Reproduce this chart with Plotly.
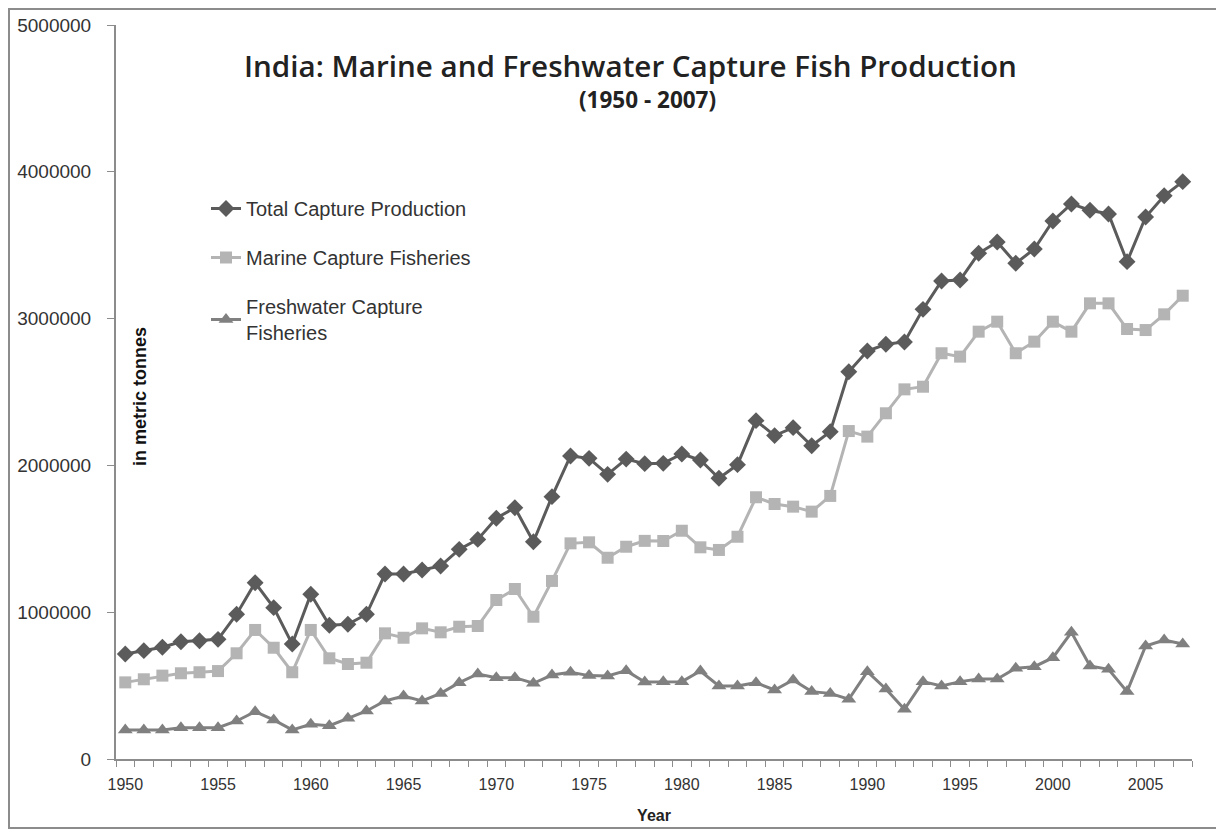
import plotly.graph_objects as go

years = list(range(1950, 2008))

total_capture = [
    715000, 738000, 761000, 799000, 806000, 815000, 986000, 1201000, 1031000, 783000,
    1122000, 911000, 918000, 986000, 1260000, 1260000, 1287000, 1315000, 1428000, 1496000,
    1640000, 1712000, 1480000, 1787000, 2064000, 2048000, 1939000, 2043000, 2012000, 2014000,
    2078000, 2037000, 1912000, 2005000, 2305000, 2203000, 2257000, 2134000, 2230000, 2638000,
    2779000, 2825000, 2841000, 3063000, 3256000, 3263000, 3445000, 3522000, 3377000, 3474000,
    3665000, 3781000, 3738000, 3713000, 3388000, 3692000, 3837000, 3933000,
]

marine_capture = [
    522000, 543000, 568000, 584000, 591000, 599000, 720000, 879000, 758000, 591000,
    879000, 686000, 647000, 656000, 856000, 826000, 890000, 863000, 901000, 906000,
    1083000, 1158000, 969000, 1213000, 1469000, 1476000, 1371000, 1446000, 1486000, 1485000,
    1555000, 1442000, 1424000, 1514000, 1783000, 1737000, 1719000, 1685000, 1792000, 2234000,
    2196000, 2355000, 2518000, 2536000, 2764000, 2741000, 2911000, 2979000, 2764000, 2843000,
    2979000, 2911000, 3104000, 3104000, 2929000, 2922000, 3029000, 3156000,
]

freshwater_capture = [
    198000, 198000, 198000, 213000, 213000, 213000, 259000, 322000, 266000, 198000,
    236000, 227000, 277000, 327000, 395000, 429000, 395000, 447000, 520000, 579000,
    554000, 554000, 516000, 572000, 591000, 568000, 566000, 602000, 524000, 527000,
    527000, 599000, 497000, 497000, 520000, 470000, 538000, 459000, 447000, 407000,
    595000, 477000, 339000, 527000, 497000, 527000, 545000, 545000, 618000, 629000,
    690000, 863000, 634000, 611000, 459000, 770000, 811000, 783000,
]

series_names = [
    "Total Capture Production",
    "Marine Capture Fisheries",
    "Freshwater Capture<br>Fisheries",
]

y_ticks = [0, 1000000, 2000000, 3000000, 4000000, 5000000]
x_label_years = [1950, 1955, 1960, 1965, 1970, 1975, 1980, 1985, 1990, 1995, 2000, 2005]

fig = go.Figure()

fig.add_trace(go.Scatter(
    x=years, y=total_capture, name=series_names[0], mode="lines+markers",
    line=dict(color="#5b5b5b", width=3),
    marker=dict(symbol="diamond", size=13, color="#5b5b5b"),
    legendgroup="a",
))
fig.add_trace(go.Scatter(
    x=years, y=marine_capture, name=series_names[1], mode="lines+markers",
    line=dict(color="#b4b4b4", width=3),
    marker=dict(symbol="square", size=12, color="#b4b4b4"),
    legendgroup="b",
))
fig.add_trace(go.Scatter(
    x=years, y=freshwater_capture, name=series_names[2], mode="lines+markers",
    line=dict(color="#808080", width=3),
    marker=dict(symbol="triangle-up", size=13, color="#808080"),
    legendgroup="c",
))

# page body adds an 8px offset; work in reference-screen pixels
OFF = 8
W, H = 1224 - OFF, 830 - OFF
L, T = 116 - OFF, 25 - OFF
PR, PB = 1192 - OFF, 759 - OFF
R, B = W - PR, H - PB
pw, ph = PR - L, PB - T


def sx(px):
    return (px - OFF - L) / pw


def sy(py):
    return (PB - (py - OFF)) / ph


fig.update_layout(
    width=W, height=H,
    margin=dict(l=L, r=R, t=T, b=B, pad=0, autoexpand=False),
    paper_bgcolor="white", plot_bgcolor="white",
    showlegend=True,
    legend=dict(
        x=sx(206), y=sy(189), xanchor="left", yanchor="top",
        font=dict(family="Liberation Sans, Arial", size=20, color="#333333"),
        bgcolor="rgba(0,0,0,0)", traceorder="grouped", tracegroupgap=20,
        itemwidth=30,
    ),
    xaxis=dict(
        range=[1949.5, 2007.5], automargin=False,
        tickmode="array", tickvals=x_label_years, ticktext=[str(v) for v in x_label_years],
        ticks="", showgrid=False, zeroline=False,
        showline=True, linecolor="#8c8c8c", linewidth=2,
        ticklabelstandoff=10,
        tickfont=dict(family="Liberation Sans, Arial", size=16, color="#333333"),
        minor=dict(tickmode="linear", tick0=1949.5, dtick=1, ticks="outside", ticklen=6,
                   tickcolor="#8c8c8c", tickwidth=1, showgrid=False),
        title=dict(text="<b>Year</b>", font=dict(family="Liberation Sans, Arial", size=16, color="#222222"), standoff=18),
    ),
    yaxis=dict(
        range=[0, 5000000], automargin=False,
        tickmode="array", tickvals=y_ticks, ticktext=[str(v) for v in y_ticks],
        ticks="outside", ticklen=7, tickcolor="#8c8c8c", tickwidth=1,
        ticklabelstandoff=12,
        showgrid=False, zeroline=False,
        showline=True, linecolor="#8c8c8c", linewidth=2,
        tickfont=dict(family="Liberation Sans, Arial", size=19, color="#333333"),
    ),
    annotations=[
        dict(text="India: Marine and Freshwater Capture Fish Production",
             xref="paper", yref="paper", x=sx(630), y=sy(66),
             xanchor="center", yanchor="middle", showarrow=False,
             font=dict(family="Open Sans", size=29.6, color="#222222", weight=600)),
        dict(text="(1950 - 2007)",
             xref="paper", yref="paper", x=sx(647), y=sy(99),
             xanchor="center", yanchor="middle", showarrow=False,
             font=dict(family="Open Sans", size=22.5, color="#222222", weight=700)),
        dict(text="<b>in metric tonnes</b>",
             xref="paper", yref="paper", x=sx(140), y=sy(397),
             xanchor="center", yanchor="middle", showarrow=False, textangle=-90,
             font=dict(family="Liberation Sans, Arial", size=18, color="#111111")),
    ],
    shapes=[
        dict(type="rect", xref="paper", yref="paper",
             x0=(1 - L) / pw, x1=sx(1221),
             y0=sy(828), y1=(PB - 1) / ph,
             line=dict(color="#8c8c8c", width=2), fillcolor="rgba(0,0,0,0)", layer="below"),
    ],
)

fig.write_html("out.html")
